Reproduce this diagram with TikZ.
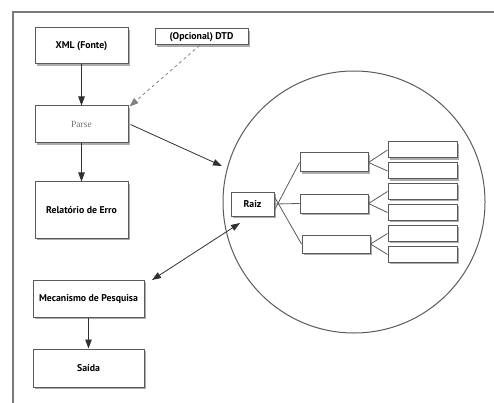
\documentclass[tikz,border=0pt]{standalone}
\usepackage{fontspec}
\setsansfont{PT Sans}
\newfontfamily\parsefont{Liberation Serif}
\usetikzlibrary{arrows.meta,shadows}
\definecolor{boxline}{HTML}{5A5A5A}
\definecolor{arrowc}{HTML}{303030}
\definecolor{framec}{HTML}{7A7A7A}
\begin{document}
\begin{tikzpicture}[x=1pt,y=-1pt,
  box/.style={draw=boxline, line width=1pt, fill=white, inner sep=0.5pt,
    font=\sffamily\bfseries\fontsize{9.8}{11}\selectfont,
    drop shadow={shadow xshift=1.8pt, shadow yshift=-1.8pt, fill=black!50, opacity=0.65}},
  arr/.style={draw=arrowc, line width=0.8pt, -{Triangle[length=9pt,width=6.5pt]}},
  tree/.style={draw=boxline, line width=0.8pt}]
\useasboundingbox (0,0) rectangle (494,403);
\draw[framec, line width=1.1pt] (13,403) -- (13,12) -- (494,12);
\draw[boxline, line width=1pt] (354,202) circle[radius=131];
% nodes
\node[box, minimum width=93pt, minimum height=36pt] (xml) at (81.5,46) {XML (Fonte)};
\node[box, minimum width=93pt, minimum height=16pt] (dtd) at (201.5,37) {(Opcional) DTD};
\node[box, minimum width=93pt, minimum height=37pt, font=\parsefont\fontsize{9.5}{11}\selectfont, text=black!55] (parse) at (81.5,124.5) {Parse};
\node[box, minimum width=93pt, minimum height=56pt] (erro) at (81.5,210) {Relatório de Erro};
\node[box, minimum width=111pt, minimum height=37pt] (mec) at (88.5,298.5) {Mecanismo de Pesquisa};
\node[box, minimum width=111pt, minimum height=38pt] (saida) at (88.5,368) {Saída};
\node[box, minimum width=43pt, minimum height=24pt] (raiz) at (252.5,204) {Raiz};
\node[box, minimum width=68pt, minimum height=19pt] (m1) at (334,162.5) {};
\node[box, minimum width=68pt, minimum height=19pt] (m2) at (334,203.5) {};
\node[box, minimum width=68pt, minimum height=18pt] (m3) at (336,244) {};
\foreach \i/\y in {1/150,2/171,3/191.5,4/212.5,5/233.5,6/254.5}
  \node[box, minimum width=69pt, minimum height=16pt] (r\i) at (422.5,\y) {};
\coordinate (ptip) at (222,166);
\coordinate (mtip) at (152,280);
\coordinate (rtip) at (240,223);
% tree
\draw[tree] ([yshift=-6pt]raiz.east) -- (m1.west);
\draw[tree] (raiz.east) -- (m2.west);
\draw[tree] ([yshift=7pt]raiz.east) -- (m3.west);
\draw[tree] (m1.east) -- (r1.west);
\draw[tree] (m1.east) -- (r2.west);
\draw[tree] (m2.east) -- (r3.west);
\draw[tree] (m2.east) -- (r4.west);
\draw[tree] (m3.east) -- (r5.west);
\draw[tree] (m3.east) -- (r6.west);
% arrows
\draw[arr] (xml.south) -- (parse.north);
\draw[arr, dashed, draw=black!50] ([xshift=-2pt]dtd.south) -- ([xshift=1pt,yshift=-1pt]parse.north east);
\draw[arr] (parse.south) -- (erro.north);
\draw[arr] ([xshift=2pt]parse.east) -- (ptip);
\draw[arr, {Triangle[length=9pt,width=6.5pt]}-{Triangle[length=9pt,width=6.5pt]}] (mtip) -- (rtip);
\draw[arr] (mec.south) -- (saida.north);
\end{tikzpicture}
\end{document}
